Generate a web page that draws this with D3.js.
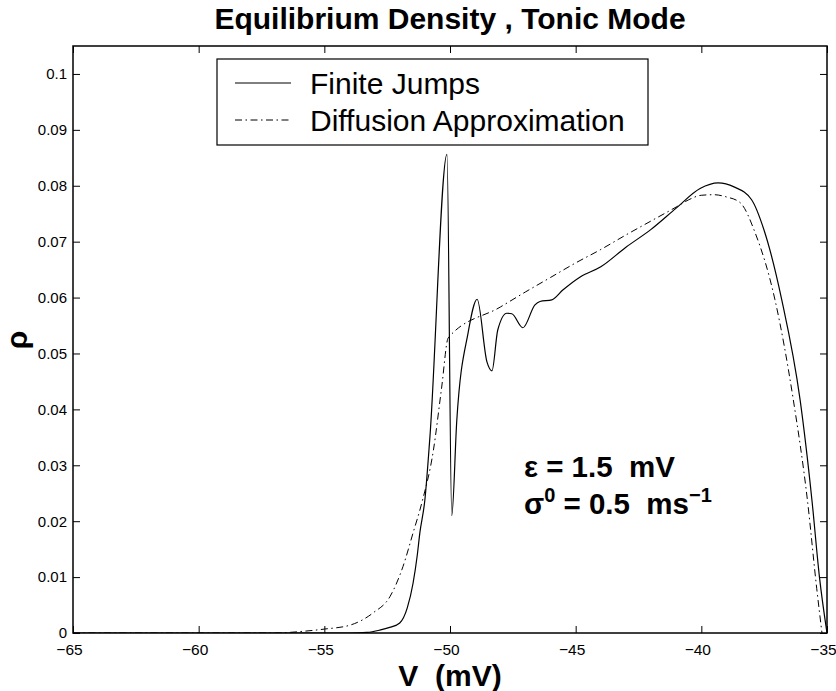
<!DOCTYPE html>
<html>
<head>
<meta charset="utf-8">
<script src="https://cdn.jsdelivr.net/npm/d3@7"></script>
<style>
  body { margin: 0; background: #fff; }
  svg { font-family: "Liberation Sans", Arial, Helvetica, sans-serif; }
</style>
</head>
<body>
<svg id="chart" width="836" height="691"></svg>
<script>
// Equilibrium density, tonic mode: finite jumps vs diffusion approximation.

var xTicks = [-65, -60, -55, -50, -45, -40, -35];
var yTicks = [0, 0.01, 0.02, 0.03, 0.04, 0.05, 0.06, 0.07, 0.08, 0.09, 0.1];
var yTickLabels = ["0", "0.01", "0.02", "0.03", "0.04", "0.05", "0.06", "0.07", "0.08", "0.09", "0.1"];

// Finite jumps (solid line)
var jumpsV = [-65, -56, -54, -53.3, -52.8, -52.4, -52.0, -51.7, -51.47, -51.3, -51.2, -51.0, -50.8,
  -50.12, -49.93, -49.73, -49.28, -48.92, -48.53, -48.33, -48.10, -47.74, -47.54, -47.10,
  -46.62, -46.42, -45.95, -45.50, -44.82, -44.0, -43.0, -42.0, -41.0, -40.05, -39.33,
  -38.7, -38.0, -37.5, -36.8, -36.07, -35.6, -35.3, -35.0];
var jumpsRho = [0, 0, 0, 0.0001, 0.0005, 0.0010, 0.0018, 0.0045, 0.0089, 0.0140, 0.0179, 0.0238, 0.035,
  0.0856, 0.0210, 0.038, 0.0537, 0.0597, 0.0485, 0.0469, 0.0542, 0.0572, 0.0571, 0.0546,
  0.0587, 0.0593, 0.0596, 0.0614, 0.0637, 0.0655, 0.0690, 0.0722, 0.0760, 0.0795, 0.0805,
  0.0798, 0.0775, 0.0720, 0.0596, 0.0417, 0.0238, 0.0100, 0.0];

// Diffusion approximation (dash-dot line)
var diffV = [-65, -57, -55.85, -55, -53.98, -53.06, -52.39, -51.87, -51.47, -51.12, -50.66, -50.33,
  -50.07, -48, -47, -46, -45, -44, -43, -42, -41, -40.5, -40, -39.5, -39, -38.46, -37.86,
  -37.07, -36.34, -35.78, -35.41, -35.2];
var diffRho = [0, 0, 0.0003, 0.0007, 0.0014, 0.0036, 0.0065, 0.0119, 0.0179, 0.0233, 0.0327, 0.0440,
  0.0528, 0.0583, 0.0610, 0.0636, 0.0662, 0.0686, 0.0712, 0.0737, 0.0762, 0.0775, 0.0783, 0.0784,
  0.0780, 0.0770, 0.0716, 0.0596, 0.0417, 0.0238, 0.0080, 0.0];

var seriesNames = ["Finite Jumps", "Diffusion Approximation"];

var svg = d3.select("#chart");
// note: "top" is a read-only window global, so use plot* names
var plotLeft = 73, plotRight = 827, plotTop = 46, plotBottom = 633;

var x = d3.scaleLinear().domain([-65, -35]).range([plotLeft, plotRight]);
var y = d3.scaleLinear().domain([0, 0.105]).range([plotBottom, plotTop]);

var DASHDOT = "7,3.5,1.5,3.5";

svg.append("defs").append("clipPath").attr("id", "plotclip")
  .append("rect").attr("x", plotLeft).attr("y", plotTop)
  .attr("width", plotRight - plotLeft).attr("height", plotBottom - plotTop);

// axes with inward ticks on all four sides
function noLine(g) { g.select(".domain").remove(); }

svg.append("g").attr("transform", "translate(0," + plotBottom + ")")
  .call(d3.axisBottom(x).tickValues(xTicks).tickSizeInner(-7).tickSizeOuter(0)
    .tickFormat(function(d) { return d3.format("d")(d).replace("-", "\u2212"); }))
  .call(noLine)
  .call(function(g) {
    g.selectAll("text").attr("y", 11).attr("dx", -4).attr("font-size", 15.5);
  });

svg.append("g").attr("transform", "translate(0," + plotTop + ")")
  .call(d3.axisTop(x).tickValues(xTicks).tickSizeInner(-7).tickSizeOuter(0).tickFormat(""))
  .call(noLine);

svg.append("g").attr("transform", "translate(" + plotLeft + ",0)")
  .call(d3.axisLeft(y).tickValues(yTicks).tickSizeInner(-7).tickSizeOuter(0)
    .tickFormat(function(d, i) { return yTickLabels[i]; }))
  .call(noLine)
  .call(function(g) {
    g.selectAll("text").attr("x", -6).attr("font-size", 15);
  });

svg.append("g").attr("transform", "translate(" + plotRight + ",0)")
  .call(d3.axisRight(y).tickValues(yTicks).tickSizeInner(-7).tickSizeOuter(0).tickFormat(""))
  .call(noLine);

svg.selectAll("g").filter(function() { return this.getAttribute("font-family"); })
  .attr("font-family", null);
svg.selectAll(".tick line").attr("stroke", "#000").attr("stroke-width", 1);
svg.selectAll(".tick text").attr("fill", "#000");

// curves
var line = d3.line()
  .x(function(d) { return x(d[0]); })
  .y(function(d) { return y(d[1]); })
  .curve(d3.curveMonotoneX);

var jumps = d3.zip(jumpsV, jumpsRho);
var diff = d3.zip(diffV, diffRho);

var plot = svg.append("g").attr("clip-path", "url(#plotclip)");

plot.append("path").datum(diff)
  .attr("d", line).attr("fill", "none").attr("stroke", "#000")
  .attr("stroke-width", 1).attr("stroke-dasharray", DASHDOT);

plot.append("path").datum(jumps)
  .attr("d", line).attr("fill", "none").attr("stroke", "#000")
  .attr("stroke-width", 1.2);

// frame
svg.append("rect").attr("x", plotLeft).attr("y", plotTop)
  .attr("width", plotRight - plotLeft).attr("height", plotBottom - plotTop)
  .attr("fill", "none").attr("stroke", "#000").attr("stroke-width", 1.5);

// legend
var legend = svg.append("g");
legend.append("rect").attr("x", 217).attr("y", 59).attr("width", 431).attr("height", 86)
  .attr("fill", "#fff").attr("stroke", "#000").attr("stroke-width", 1.2);

seriesNames.forEach(function(name, i) {
  var ly = 83 + i * 37;
  legend.append("line").attr("x1", 235).attr("x2", 291).attr("y1", ly).attr("y2", ly)
    .attr("stroke", "#000").attr("stroke-width", 1)
    .attr("stroke-dasharray", i === 0 ? null : DASHDOT);
  legend.append("text").attr("x", 310).attr("y", ly + 10.5)
    .attr("font-size", 30).text(name);
});

// title and axis labels
svg.append("text").attr("x", (plotLeft + plotRight) / 2).attr("y", 29)
  .attr("text-anchor", "middle").attr("font-size", 30).attr("font-weight", "bold")
  .text("Equilibrium Density , Tonic Mode");

svg.append("text").attr("x", (plotLeft + plotRight) / 2).attr("y", 685.5)
  .attr("text-anchor", "middle").attr("font-size", 30).attr("font-weight", "bold")
  .attr("xml:space", "preserve")
  .text("V  (mV)");

svg.append("text").attr("transform", "translate(27,340) rotate(-90)")
  .attr("text-anchor", "middle").attr("font-size", 30).attr("font-weight", "bold")
  .text("\u03c1");

// parameter annotation
var ann = svg.append("g").attr("font-weight", "bold").attr("font-size", 29.5);
ann.append("text").attr("x", 524).attr("y", 477).attr("xml:space", "preserve")
  .text("\u03b5 = 1.5  mV");
var t2 = ann.append("text").attr("x", 524).attr("y", 514).attr("xml:space", "preserve");
t2.append("tspan").text("\u03c3");
t2.append("tspan").attr("dy", -12).attr("font-size", 20).text("0");
t2.append("tspan").attr("dy", 12).text(" = 0.5  ms");
t2.append("tspan").attr("dy", -12).attr("font-size", 20).text("\u22121");
</script>
</body>
</html>
